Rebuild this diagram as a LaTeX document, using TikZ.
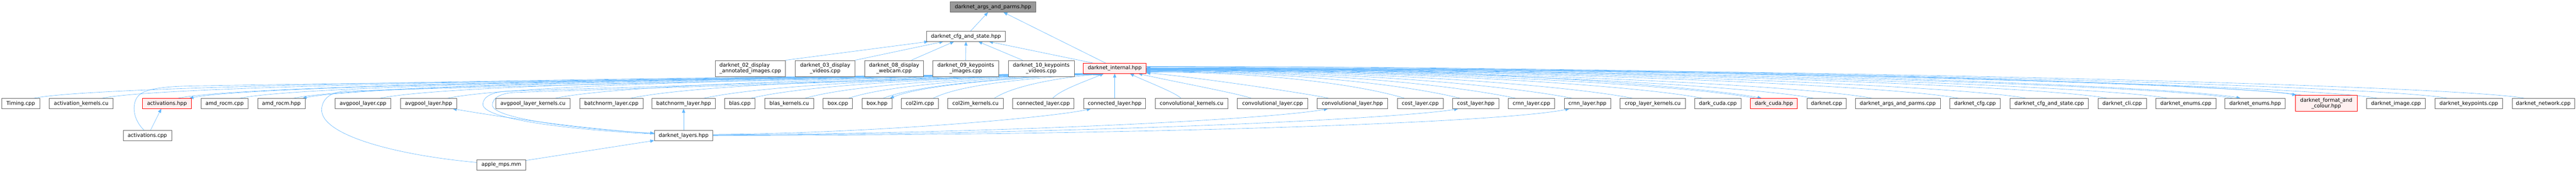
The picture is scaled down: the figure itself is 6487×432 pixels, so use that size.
\documentclass[tikz,border=0pt]{standalone}
\usepackage{fontspec}
\newfontfamily\nodefont{DejaVu Sans}
\usetikzlibrary{arrows.meta,backgrounds}
\definecolor{edgeblue}{HTML}{63B8FF}
\definecolor{boxgray}{HTML}{666666}
\definecolor{redfill}{HTML}{FFF0F0}
\definecolor{rootfill}{HTML}{999999}
\begin{document}
\begin{tikzpicture}[x=1pt,y=-1pt,
  box/.style={draw=boxgray, fill=white, line width=1pt, inner sep=0pt, minimum height=25.4pt,
    font={\nodefont\fontsize{13pt}{15pt}\selectfont}, text=black},
  redbox/.style={box, draw=red, fill=redfill},
  rootbox/.style={box, fill=rootfill},
  two/.style={minimum height=40.6pt, align=center},
  lnk/.style={draw=edgeblue, line width=0.8pt, -{Triangle[length=10pt,width=8pt]}}]
\useasboundingbox (0,0) rectangle (6487,432);
% top
\node[rootbox, minimum width=215pt] (args) at (2500.5,17.7) {darknet\_args\_and\_parms.hpp};
\node[box, minimum width=199pt] (cfgst) at (2432.5,91.3) {darknet\_cfg\_and\_state.hpp};
% row 2
\node[box, two, align=left, minimum width=177pt] (d02) at (1889.5,172) {darknet\_02\_display\\\_annotated\_images.cpp};
\node[box, two, minimum width=150pt] (d03) at (2078,172) {darknet\_03\_display\\\_videos.cpp};
\node[box, two, minimum width=149pt] (d08) at (2251.5,172) {darknet\_08\_display\\\_webcam.cpp};
\node[box, two, minimum width=166pt] (d09) at (2432,172) {darknet\_09\_keypoints\\\_images.cpp};
\node[box, two, minimum width=166pt] (d10) at (2622,172) {darknet\_10\_keypoints\\\_videos.cpp};
\node[redbox, minimum width=158pt] (internal) at (2807,171.5) {darknet\_internal.hpp};
% main row
\node[box, minimum width=95.4pt] (timing) at (52.3,260) {Timing.cpp};
\node[box, minimum width=161pt] (actk) at (204.5,260) {activation\_kernels.cu};
\node[redbox, minimum width=123pt] (acth) at (420.5,260) {activations.hpp};
\node[box, minimum width=119pt] (amdc) at (565.5,260) {amd\_rocm.cpp};
\node[box, minimum width=119pt] (amdh) at (708.5,260) {amd\_rocm.hpp};
\node[box, minimum width=140pt] (avgc) at (914,260) {avgpool\_layer.cpp};
\node[box, minimum width=141.5pt] (avgh) at (1079,260) {avgpool\_layer.hpp};
\node[box, minimum width=186pt] (avgk) at (1342,260) {avgpool\_layer\_kernels.cu};
\node[box, minimum width=159pt] (bnc) at (1539.5,260) {batchnorm\_layer.cpp};
\node[box, minimum width=159pt] (bnh) at (1721.5,260) {batchnorm\_layer.hpp};
\node[box, minimum width=76pt] (blasc) at (1863,260) {blas.cpp};
\node[box, minimum width=123pt] (blask) at (1987.5,260) {blas\_kernels.cu};
\node[box, minimum width=74pt] (boxc) at (2110,260) {box.cpp};
\node[box, minimum width=75pt] (boxh) at (2208.5,260) {box.hpp};
\node[box, minimum width=93pt] (col2imc) at (2316.5,260) {col2im.cpp};
\node[box, minimum width=139pt] (col2imk) at (2456.5,260) {col2im\_kernels.cu};
\node[box, minimum width=154pt] (connc) at (2627,260) {connected\_layer.cpp};
\node[box, minimum width=156pt] (connh) at (2807,260) {connected\_layer.hpp};
\node[box, minimum width=183pt] (convk) at (3000.5,260) {convolutional\_kernels.cu};
\node[box, minimum width=177pt] (convc) at (3204.5,260) {convolutional\_layer.cpp};
\node[box, minimum width=177pt] (convh) at (3405.5,260) {convolutional\_layer.hpp};
\node[box, minimum width=115pt] (costc) at (3576.5,260) {cost\_layer.cpp};
\node[box, minimum width=117pt] (costh) at (3716.5,260) {cost\_layer.hpp};
\node[box, minimum width=117pt] (crnnc) at (3856.5,260) {crnn\_layer.cpp};
\node[box, minimum width=117pt] (crnnh) at (3997.5,260) {crnn\_layer.hpp};
\node[box, minimum width=164pt] (cropk) at (4162,260) {crop\_layer\_kernels.cu};
\node[box, minimum width=116pt] (dcc) at (4326,260) {dark\_cuda.cpp};
\node[redbox, minimum width=118pt] (dch) at (4467,260) {dark\_cuda.hpp};
\node[box, minimum width=99pt] (dn) at (4599.5,260) {darknet.cpp};
\node[box, minimum width=214pt] (dnargs) at (4779,260) {darknet\_args\_and\_parms.cpp};
\node[box, minimum width=127pt] (dncfg) at (4973.5,260) {darknet\_cfg.cpp};
\node[box, minimum width=197pt] (dncfgst) at (5160.5,260) {darknet\_cfg\_and\_state.cpp};
\node[box, minimum width=122pt] (dncli) at (5344,260) {darknet\_cli.cpp};
\node[box, minimum width=151pt] (dnenc) at (5504.5,260) {darknet\_enums.cpp};
\node[box, minimum width=152pt] (dnenh) at (5679,260) {darknet\_enums.hpp};
\node[redbox, two, minimum width=156pt] (dnfmt) at (5858,259.7) {darknet\_format\_and\\\_colour.hpp};
\node[box, minimum width=147pt] (dnimg) at (6033.5,260) {darknet\_image.cpp};
\node[box, minimum width=170pt] (dnkp) at (6217,260) {darknet\_keypoints.cpp};
\node[box, minimum width=157pt] (dnnet) at (6404.5,260) {darknet\_network.cpp};
% lower rows
\node[box, minimum width=122pt] (actcpp) at (371,340.5) {activations.cpp};
\node[box, minimum width=147pt] (layers) at (1721.5,340.5) {darknet\_layers.hpp};
\node[box, minimum width=123pt] (apple) at (1262.5,414) {apple\_mps.mm};

\begin{pgfonlayer}{background}
\fill[white] (0,0) rectangle (6487,432);
% top edges
\draw[lnk] ([xshift=11.5pt]cfgst.north) -- ([xshift=-12.5pt]args.south);
\draw[lnk] ([xshift=-23pt]internal.north) -- ([xshift=26.5pt]args.south);
\draw[lnk] (d02.north east) -- ([xshift=5pt]cfgst.south west);
\draw[lnk] (d03.north east) -- ([xshift=43pt]cfgst.south west);
\draw[lnk] ([xshift=43.5pt]d08.north) -- ([xshift=70pt]cfgst.south west);
\draw[lnk] (d09.north) -- (cfgst.south);
\draw[lnk] ([xshift=-47pt]d10.north) -- ([xshift=31pt]cfgst.south);
\draw[lnk] ([xshift=-55pt]internal.north) -- ([xshift=58pt]cfgst.south);
% left group to internal
\draw[lnk] ([xshift=32.7pt]timing.north) .. controls (235,215) and (1412,198) .. ([xshift=10pt]internal.south west);
\draw[lnk] ([xshift=52.5pt]actk.north) .. controls (407,215) and (1499,198) .. ([xshift=12pt]internal.south west);
\draw[lnk] ([xshift=27.5pt]acth.north) .. controls (598,215) and (1595,198) .. ([xshift=14pt]internal.south west);
\draw[lnk] ([xshift=18pt]internal.south west) .. controls (1611,199) and (627,216) .. ([xshift=56.5pt]acth.north);
\draw[lnk] ([xshift=38.5pt]amdc.north) .. controls (754,215) and (1674,198) .. ([xshift=16pt]internal.south west);
\draw[lnk] ([xshift=30.5pt]amdh.north) .. controls (889,215) and (1743,198) .. ([xshift=18pt]internal.south west);
\draw[lnk] ([xshift=20pt]internal.south west) .. controls (1755,199) and (912,216) .. ([xshift=53.5pt]amdh.north);
\draw[lnk] ([xshift=-8pt]actcpp.north) .. controls (335,300) and (332,265) .. (345,245) .. controls (355,230) and (380,217.8) .. (480,216) .. controls (1100,205) and (2100,198) .. ([xshift=22pt]internal.south west);
\draw[lnk] ([xshift=8pt]actcpp.north) -- ([xshift=-14.5pt]acth.south);
\draw[lnk] ([yshift=6pt]apple.west) .. controls (1000,390) and (808,340) .. (810,275) .. controls (811,250) and (830,231) .. (870,229) .. controls (1300,215) and (2100,198) .. ([xshift=24pt]internal.south west);
\draw[lnk] ([yshift=11pt]apple.east) -- ([yshift=-12.5pt]layers.west);
\draw[lnk] ([xshift=43pt]avgc.north) .. controls (1107,215) and (1855,198) .. ([xshift=26pt]internal.south west);
\draw[lnk] ([xshift=48pt]avgh.north) .. controls (1277,215) and (1941,198) .. ([xshift=28pt]internal.south west);
\draw[lnk] ([yshift=4pt]layers.west) .. controls (1500,330) and (1216,305) .. (1216,262) .. controls (1216,243) and (1240,230.3) .. (1280,229) .. controls (1700,215) and (2300,199) .. ([xshift=30pt]internal.south west);
\draw[lnk] ([xshift=32pt]internal.south west) .. controls (2300,201) and (1700,219) .. (1300,232) .. controls (1262,233.3) and (1240,245) .. (1240,264) .. controls (1240,300) and (1480,326) .. ([yshift=6pt]layers.west);
\draw[lnk] ([yshift=5pt]layers.west) .. controls (1450,322) and (1250,292) .. ([xshift=61pt]avgh.south);
\draw[lnk] (layers.north) -- (bnh.south);
\draw[lnk] ([yshift=3pt]layers.east) .. controls (2200,335) and (2650,295) .. ([xshift=-60pt]connh.south);
\draw[lnk] ([yshift=2pt]layers.east) .. controls (2500,336) and (3200,300) .. ([xshift=-61.5pt]convh.south);
\draw[lnk] ([yshift=1pt]layers.east) .. controls (2800,337) and (3550,295) .. ([xshift=-44.5pt]costh.south);
\draw[lnk] (layers.east) .. controls (3000,339) and (3800,305) .. ([xshift=-45.5pt]crnnh.south);
\draw[lnk] ([xshift=56pt]avgk.north) .. controls (1548,215) and (2078,198) .. ([xshift=34pt]internal.south west);
\draw[lnk] ([xshift=48.5pt]bnc.north) .. controls (1738,215) and (2174,198) .. ([xshift=36pt]internal.south west);
\draw[lnk] ([xshift=50.5pt]bnh.north) .. controls (1920,215) and (2267,198) .. ([xshift=38pt]internal.south west);
\draw[lnk] ([xshift=28pt]blasc.north) .. controls (2022,215) and (2328,198) .. ([xshift=40pt]internal.south west);
\draw[lnk] ([xshift=39.5pt]blask.north) .. controls (2138,215) and (2396,198) .. ([xshift=42pt]internal.south west);
\draw[lnk] ([xshift=27pt]boxc.north) .. controls (2232,215) and (2452,198) .. ([xshift=44pt]internal.south west);
\draw[lnk] ([xshift=15.5pt]boxh.north) .. controls (2306,215) and (2497,198) .. ([xshift=46pt]internal.south west);
\draw[lnk] ([xshift=26pt]internal.south west) .. controls (2500,199) and (2320,216) .. ([xshift=32.5pt]boxh.north);
\draw[lnk] ([xshift=33.5pt]col2imc.north) .. controls (2413,215) and (2561,198) .. ([xshift=48pt]internal.south west);
\draw[lnk] ([xshift=47.5pt]col2imk.north) .. controls (2544,220) and (2639,198) .. ([xshift=50pt]internal.south west);
\draw[lnk] ([xshift=24pt]connc.north) .. controls (2670,225) and (2745,200) .. ([xshift=52pt]internal.south west);
\draw[lnk] (connh.north) -- (internal.south);
% right group to internal
\draw[lnk] ([xshift=-26.5pt]convk.north) .. controls (2960,232) and (2875,200) .. ([xshift=-41pt]internal.south east);
\draw[lnk] ([xshift=-53.5pt]convc.north) .. controls (3120,235) and (2930,200) .. ([xshift=-20pt]internal.south east);
\draw[lnk] ([xshift=-59.5pt]convh.north) .. controls (3300,236) and (3000,192) .. ([yshift=-11.5pt]internal.east);
\draw[lnk] ([xshift=-39.5pt]costc.north) .. controls (3439,217) and (3211,181) .. ([yshift=-9.5pt]internal.east);
\draw[lnk] ([xshift=-39.5pt]costh.north) .. controls (3558,217) and (3282,180) .. ([yshift=-8.5pt]internal.east);
\draw[lnk] ([xshift=-39.5pt]crnnc.north) .. controls (3677,217) and (3352,179) .. ([yshift=-7.5pt]internal.east);
\draw[lnk] ([xshift=-38.5pt]crnnh.north) .. controls (3809,217) and (3422,178) .. ([yshift=-6.5pt]internal.east);
\draw[lnk] ([xshift=-51pt]cropk.north) .. controls (3961,217) and (3498,177) .. ([yshift=-5.5pt]internal.east);
\draw[lnk] ([xshift=-39pt]dcc.north) .. controls (4137,217) and (3586,176.5) .. ([yshift=-5pt]internal.east);
\draw[lnk] ([xshift=-47pt]dch.north) .. controls (4270,217) and (3653,176) .. ([yshift=-4.5pt]internal.east);
\draw[lnk] ([yshift=3.5pt]internal.east) .. controls (3661,168) and (4286,217) .. ([xshift=-31pt]dch.north);
\draw[lnk] ([xshift=-32.5pt]dn.north) .. controls (4417,217) and (3726,175.5) .. ([yshift=-4pt]internal.east);
\draw[lnk] ([xshift=-65pt]dnargs.north) .. controls (4564,217) and (3800,175) .. ([yshift=-3.5pt]internal.east);
\draw[lnk] ([xshift=-41.5pt]dncfg.north) .. controls (4782,217) and (3909,174.5) .. ([yshift=-3pt]internal.east);
\draw[lnk] ([xshift=-58.5pt]dncfgst.north) .. controls (4952,217) and (3994,174) .. ([yshift=-2.5pt]internal.east);
\draw[lnk] ([xshift=-38pt]dncli.north) .. controls (5156,217) and (4096,173.5) .. ([yshift=-2pt]internal.east);
\draw[lnk] ([xshift=-46.5pt]dnenc.north) .. controls (5308,217) and (4172,173) .. ([yshift=-1.5pt]internal.east);
\draw[lnk] ([xshift=-56pt]dnenh.north) .. controls (5473,217) and (4254,172.5) .. ([yshift=-1pt]internal.east);
\draw[lnk] ([yshift=4pt]internal.east) .. controls (4264,167.5) and (5492,217) .. ([xshift=-37pt]dnenh.north);
\draw[lnk] ([xshift=16pt]dnfmt.north west) .. controls (5646,212) and (4330,172) .. ([yshift=-0.5pt]internal.east);
\draw[lnk] ([yshift=4.5pt]internal.east) .. controls (4333,167) and (5633,212) .. ([xshift=3pt]dnfmt.north west);
\draw[lnk] ([xshift=-46.5pt]dnimg.north) .. controls (5837,217) and (4436,171.5) .. (internal.east);
\draw[lnk] ([xshift=-54pt]dnkp.north) .. controls (6013,217) and (4524,171) .. ([yshift=0.5pt]internal.east);
\draw[lnk] ([xshift=-47.5pt]dnnet.north) .. controls (6207,217) and (4621,170.5) .. ([yshift=1pt]internal.east);
\end{pgfonlayer}
\end{tikzpicture}
\end{document}
